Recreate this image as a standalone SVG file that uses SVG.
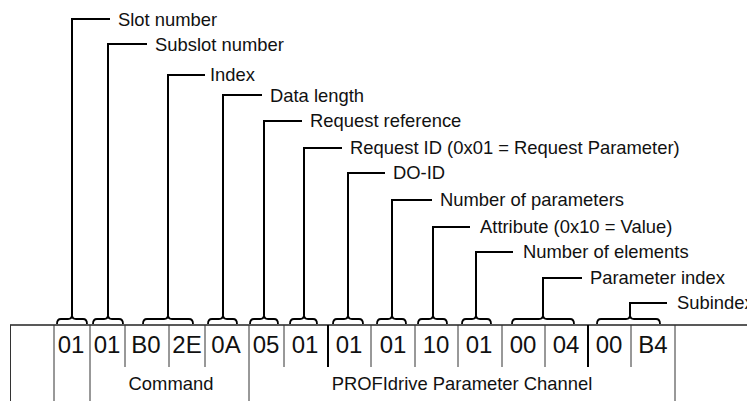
<svg xmlns="http://www.w3.org/2000/svg" width="747" height="401" viewBox="0 0 747 401">
<style>
.lbl{font-family:"Liberation Sans",Arial,sans-serif;font-size:18.4px;fill:#111}
.val{font-family:"Liberation Sans",Arial,sans-serif;font-size:24px;fill:#111;text-anchor:middle}
.sec{font-family:"Liberation Sans",Arial,sans-serif;font-size:18.4px;fill:#111;text-anchor:middle}
.ld{fill:none;stroke:#000;stroke-width:2}
.br{fill:none;stroke:#000;stroke-width:1.8}
.dv{stroke:#333;stroke-width:1}
.dvt{stroke:#000;stroke-width:2}
</style>
<rect width="747" height="401" fill="#fff"/>
<g id="table">
<line x1="10" y1="325" x2="747" y2="325" stroke="#222" stroke-width="1.5"/>
<line class="dv" x1="10.5" y1="325" x2="10.5" y2="401"/>
<line class="dv" x1="54" y1="325" x2="54" y2="401"/>
<line class="dv" x1="90" y1="325" x2="90" y2="401"/>
<line class="dv" x1="125" y1="325" x2="125" y2="367"/>
<line class="dv" x1="169" y1="325" x2="169" y2="367"/>
<line class="dv" x1="205" y1="325" x2="205" y2="367"/>
<line class="dv" x1="249" y1="325" x2="249" y2="401"/>
<line class="dv" x1="284" y1="325" x2="284" y2="367"/>
<line class="dvt" x1="328" y1="325" x2="328" y2="367"/>
<line class="dv" x1="371" y1="325" x2="371" y2="367"/>
<line class="dv" x1="415" y1="325" x2="415" y2="367"/>
<line class="dv" x1="458" y1="325" x2="458" y2="367"/>
<line class="dv" x1="502" y1="325" x2="502" y2="367"/>
<line class="dv" x1="545" y1="325" x2="545" y2="367"/>
<line class="dvt" x1="588" y1="325" x2="588" y2="367"/>
<line class="dv" x1="631" y1="325" x2="631" y2="367"/>
<line class="dv" x1="675" y1="325" x2="675" y2="401"/>
<text class="val" x="71" y="352.5">01</text>
<text class="val" x="107" y="352.5">01</text>
<text class="val" x="146" y="352.5">B0</text>
<text class="val" x="187" y="352.5">2E</text>
<text class="val" x="226" y="352.5">0A</text>
<text class="val" x="266" y="352.5">05</text>
<text class="val" x="305" y="352.5">01</text>
<text class="val" x="349" y="352.5">01</text>
<text class="val" x="393" y="352.5">01</text>
<text class="val" x="436" y="352.5">10</text>
<text class="val" x="479" y="352.5">01</text>
<text class="val" x="523" y="352.5">00</text>
<text class="val" x="566" y="352.5">04</text>
<text class="val" x="609" y="352.5">00</text>
<text class="val" x="653" y="352.5">B4</text>
<text class="sec" x="171" y="390">Command</text>
<text class="sec" x="462" y="390">PROFIdrive Parameter Channel</text>
</g>
<g id="connectors">
<path class="br" d="M57,324 Q57,319 61,319 L68,319 Q72,319 72,315 Q72,319 76,319 L83,319 Q87,319 87,324"/>
<path class="br" d="M93,324 Q93,319 97,319 L104,319 Q108,319 108,315 Q108,319 112,319 L119,319 Q123,319 123,324"/>
<path class="br" d="M143,324 Q143,319 147,319 L164,319 Q168,319 168,315 Q168,319 172,319 L189,319 Q193,319 193,324"/>
<path class="br" d="M208,324 Q208,319 212,319 L219,319 Q223,319 223,315 Q223,319 227,319 L233,319 Q237,319 237,324"/>
<path class="br" d="M250,324 Q250,319 254,319 L260,319 Q264,319 264,315 Q264,319 268,319 L274,319 Q278,319 278,324"/>
<path class="br" d="M290,324 Q290,319 294,319 L300,319 Q304,319 304,315 Q304,319 308,319 L313,319 Q317,319 317,324"/>
<path class="br" d="M333,324 Q333,319 337,319 L344,319 Q348,319 348,315 Q348,319 352,319 L359,319 Q363,319 363,324"/>
<path class="br" d="M377,324 Q377,319 381,319 L388,319 Q392,319 392,315 Q392,319 396,319 L402,319 Q406,319 406,324"/>
<path class="br" d="M418,324 Q418,319 422,319 L429,319 Q433,319 433,315 Q433,319 437,319 L443,319 Q447,319 447,324"/>
<path class="br" d="M462,324 Q462,319 466,319 L472,319 Q476,319 476,315 Q476,319 480,319 L487,319 Q491,319 491,324"/>
<path class="br" d="M512,324 Q512,319 516,319 L539,319 Q543,319 543,315 Q543,319 547,319 L570,319 Q574,319 574,324"/>
<path class="br" d="M597,324 Q597,319 601,319 L626,319 Q630,319 630,315 Q630,319 634,319 L656,319 Q660,319 660,324"/>
<path class="ld" d="M72,315 V19 H110"/>
<path class="ld" d="M108,315 V44 H147"/>
<path class="ld" d="M168,315 V75 H205"/>
<path class="ld" d="M223,315 V95 H262"/>
<path class="ld" d="M264,315 V121 H302"/>
<path class="ld" d="M304,315 V148 H342"/>
<path class="ld" d="M348,315 V173 H385"/>
<path class="ld" d="M392,315 V200 H432"/>
<path class="ld" d="M433,315 V227 H470"/>
<path class="ld" d="M476,315 V252 H513"/>
<path class="ld" d="M543,315 V278 H582"/>
<path class="ld" d="M630,315 V303 H667"/>
</g>
<g id="labels">
<text class="lbl" x="118" y="26">Slot number</text>
<text class="lbl" x="155" y="51">Subslot number</text>
<text class="lbl" x="210" y="81">Index</text>
<text class="lbl" x="270" y="102">Data length</text>
<text class="lbl" x="310" y="127">Request reference</text>
<text class="lbl" x="350" y="154">Request ID (0x01 = Request Parameter)</text>
<text class="lbl" x="393" y="179">DO-ID</text>
<text class="lbl" x="440" y="206">Number of parameters</text>
<text class="lbl" x="480" y="233">Attribute (0x10 = Value)</text>
<text class="lbl" x="523" y="258">Number of elements</text>
<text class="lbl" x="590" y="284">Parameter index</text>
<text class="lbl" x="677" y="309">Subindex</text>
</g>
</svg>
